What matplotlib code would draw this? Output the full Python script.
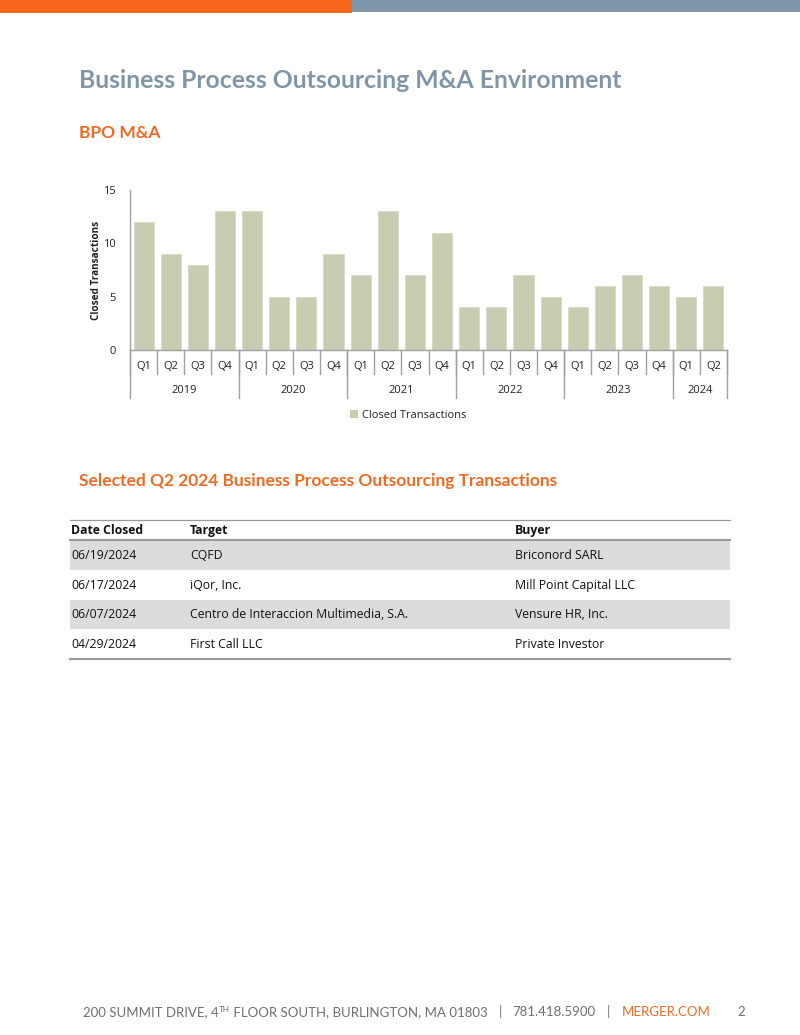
import matplotlib
matplotlib.use("Agg")
import matplotlib.pyplot as plt
from matplotlib.patches import Rectangle, Patch
from matplotlib.lines import Line2D

# ---------------- data ----------------
quarter_labels = ["Q1", "Q2", "Q3", "Q4", "Q1", "Q2", "Q3", "Q4", "Q1", "Q2", "Q3", "Q4",
                  "Q1", "Q2", "Q3", "Q4", "Q1", "Q2", "Q3", "Q4", "Q1", "Q2"]
closed_transactions = [12, 9, 8, 13, 13, 5, 5, 9, 7, 13, 7, 11,
                       4, 4, 7, 5, 4, 6, 7, 6, 5, 6]
year_labels = ["2019", "2020", "2021", "2022", "2023", "2024"]
quarters_per_year = [4, 4, 4, 4, 4, 2]
y_ticks = [0, 5, 10, 15]

table_header = ["Date Closed", "Target", "Buyer"]
dates_closed = ["06/19/2024", "06/17/2024", "06/07/2024", "04/29/2024"]
targets = ["CQFD", "iQor, Inc.", "Centro de Interaccion Multimedia, S.A.", "First Call LLC"]
buyers = ["Briconord SARL", "Mill Point Capital LLC", "Vensure HR, Inc.", "Private Investor"]

# ---------------- style ----------------
W, H = 800, 1035
ORANGE = "#f26a21"
SLATE = "#8096a8"
BAR = "#c9ccb1"
AXGRAY = "#a0a0a0"
TXT = "#222222"
HEAD_FONT = ["Lato", "DejaVu Sans"]
BODY_FONT = ["Open Sans", "DejaVu Sans"]
CHART_FS = 8.0
TABLE_FS = 8.8

def fx(px):
    return px / W

def fy(py):
    return 1 - py / H

fig = plt.figure(figsize=(W / 100, H / 100), dpi=100)
fig.patch.set_facecolor("white")

# top bars
fig.add_artist(Rectangle((0, fy(13)), fx(352), 13 / H, transform=fig.transFigure,
                         facecolor="#f7661d", edgecolor="none"))
fig.add_artist(Rectangle((fx(352), fy(12)), fx(448), 12 / H, transform=fig.transFigure,
                         facecolor="#7f97aa", edgecolor="none"))

# headings
fig.text(fx(79), fy(80), "Business Process Outsourcing M&A Environment", family=HEAD_FONT,
         fontweight="bold", fontsize=17.8, color=SLATE, va="center", ha="left")
fig.text(fx(79), fy(133), "BPO M&A", family=HEAD_FONT, fontweight="bold", fontsize=12.5,
         color=ORANGE, va="center", ha="left")
fig.text(fx(79), fy(481), "Selected Q2 2024 Business Process Outsourcing Transactions",
         family=HEAD_FONT, fontweight="bold", fontsize=12.5, color=ORANGE, va="center", ha="left")

# ---------------- chart ----------------
ax_l, ax_r, ax_t, ax_b = 130, 727, 190, 350
ax = fig.add_axes([fx(ax_l), fy(ax_b), (ax_r - ax_l) / W, (ax_b - ax_t) / H])
xs = list(range(len(closed_transactions)))
ax.bar(xs, closed_transactions, width=0.74, color=BAR, edgecolor="#d8dac6", linewidth=0.6, zorder=2)
ax.set_xlim(-0.5, len(xs) - 0.5)
ax.set_ylim(0, 15)
ax.set_yticks(y_ticks)
ax.set_yticklabels([str(t) for t in y_ticks], family=BODY_FONT, fontsize=CHART_FS, color=TXT)
ax.tick_params(axis="y", length=0, pad=10)
ax.set_xticks([])
for s in ["top", "right"]:
    ax.spines[s].set_visible(False)
for s in ["left", "bottom"]:
    ax.spines[s].set_color(AXGRAY)
    ax.spines[s].set_linewidth(1.0)
ax.set_ylabel("Closed Transactions", family=BODY_FONT, fontweight="bold", fontsize=7.2,
              color=TXT, labelpad=1)

trans = ax.get_xaxis_transform()
ah = ax_b - ax_t
q_sep = -24 / ah
y_sep = -48 / ah
# quarter labels and separators
for i, q in enumerate(quarter_labels):
    ax.text(i, -16.5 / ah, q, transform=trans, ha="center", va="center",
            family=BODY_FONT, fontsize=CHART_FS, color=TXT)
for i in range(len(xs) + 1):
    ax.add_line(Line2D([i - 0.5, i - 0.5], [0, q_sep], transform=trans, color=AXGRAY,
                       lw=1.0, clip_on=False))
# year labels and separators
start = 0
for yl, n in zip(year_labels, quarters_per_year):
    ax.add_line(Line2D([start - 0.5, start - 0.5], [0, y_sep], transform=trans, color=AXGRAY,
                       lw=1.0, clip_on=False))
    ax.text(start + (n - 1) / 2, -40.5 / ah, yl, transform=trans, ha="center", va="center",
            family=BODY_FONT, fontsize=CHART_FS, color=TXT)
    start += n
ax.add_line(Line2D([start - 0.5, start - 0.5], [0, y_sep], transform=trans, color=AXGRAY,
                   lw=1.0, clip_on=False))

leg = fig.legend(handles=[Patch(facecolor=BAR, edgecolor="none", label="Closed Transactions")],
                 loc="center", bbox_to_anchor=(fx(408), fy(415)), frameon=False,
                 prop={"family": BODY_FONT, "size": CHART_FS}, handlelength=0.7,
                 handleheight=0.7, handletextpad=0.35)
for t in leg.get_texts():
    t.set_color(TXT)

# ---------------- table ----------------
tl, tr = 70, 730
col_x = [71, 190, 515]
fig.add_artist(Line2D([fx(tl), fx(tr)], [fy(519.5), fy(519.5)], transform=fig.transFigure,
                      color="#9a9a9a", lw=0.9))
for cx, h in zip(col_x, table_header):
    fig.text(fx(cx), fy(530.5), h, family=BODY_FONT, fontweight="bold", fontsize=TABLE_FS,
             color="#111111", va="center", ha="left")
row_h = 29.5
first_top = 540.5
for r, (d, t, b) in enumerate(zip(dates_closed, targets, buyers)):
    top = first_top + r * row_h
    if r % 2 == 0:
        fig.add_artist(Rectangle((fx(tl), fy(top + row_h)), (tr - tl) / W, row_h / H,
                                 transform=fig.transFigure, facecolor="#dcdcdc",
                                 edgecolor="none"))
    cy = top + row_h / 2 + 0.5
    for cx, val in zip(col_x, [d, t, b]):
        fig.text(fx(cx), fy(cy), val, family=BODY_FONT, fontsize=TABLE_FS, color="#111111",
                 va="center", ha="left")
fig.add_artist(Line2D([fx(tl), fx(tr)], [fy(540), fy(540)], transform=fig.transFigure,
                      color="#9a9a9a", lw=1.5))
bottom = first_top + len(dates_closed) * row_h
fig.add_artist(Line2D([fx(tl), fx(tr)], [fy(bottom + 0.5), fy(bottom + 0.5)],
                      transform=fig.transFigure, color="#9a9a9a", lw=1.5))

# ---------------- footer ----------------
FOOT = "#6f6f6f"
fig.canvas.draw()
renderer = fig.canvas.get_renderer()

def run(x_px, y_px, text, color=FOOT, size=9.5, dy=0):
    t = fig.text(fx(x_px), fy(y_px + dy), text, family=HEAD_FONT, fontsize=size, color=color,
                 va="baseline", ha="left")
    bb = t.get_window_extent(renderer)
    return x_px + bb.width

base = 1016
x = 83
x = run(x, base, "200 SUMMIT DRIVE, 4")
x = run(x, base, "TH", size=5.9, dy=-4.5)
run(x, base, " FLOOR SOUTH, BURLINGTON, MA 01803")
run(498.5, base, "|")
run(512, base, "781.418.5900")
run(607, base, "|")
run(622, base, "MERGER.COM", color=ORANGE)
run(737, base, "2")

fig.savefig("out.png", dpi=100)
